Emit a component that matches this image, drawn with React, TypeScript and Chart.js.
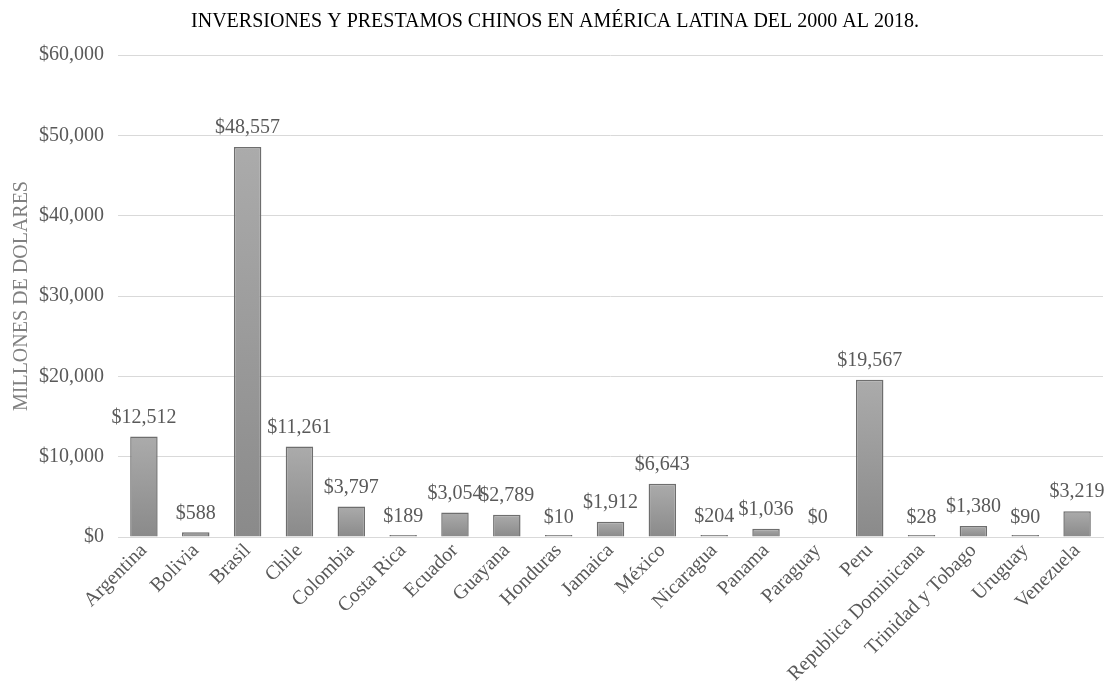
import React, { useEffect, useRef } from "react";
import { Chart, registerables } from "chart.js";

Chart.register(...registerables);

const TITLE = "INVERSIONES Y PRESTAMOS CHINOS EN AMÉRICA LATINA DEL 2000 AL 2018.";
const Y_TITLE = "MILLONES DE DOLARES";
const countries = [
  "Argentina", "Bolivia", "Brasil", "Chile", "Colombia", "Costa Rica", "Ecuador",
  "Guayana", "Honduras", "Jamaica", "México", "Nicaragua", "Panama", "Paraguay",
  "Peru", "Republica Dominicana", "Trinidad y Tobago", "Uruguay", "Venezuela",
];
const amounts = [
  12512, 588, 48557, 11261, 3797, 189, 3054, 2789, 10, 1912, 6643, 204, 1036, 0,
  19567, 28, 1380, 90, 3219,
];
const yMin = 0;
const yMax = 60000;
const yStep = 10000;

const SERIF = '"Liberation Serif", "Times New Roman", serif';
const fmt = (v: number) => "$" + v.toLocaleString("en-US");

const dataLabels = {
  id: "dataLabels",
  afterDatasetsDraw(chart: any) {
    const ctx = chart.ctx;
    const xs = chart.scales.x;
    const ys = chart.scales.y;
    ctx.save();
    ctx.font = `20px ${SERIF}`;
    ctx.fillStyle = "#595959";
    ctx.textAlign = "center";
    ctx.textBaseline = "middle";
    amounts.forEach((v, i) => {
      ctx.fillText(fmt(v), xs.getPixelForValue(i), ys.getPixelForValue(v) - 19);
    });
    ctx.restore();
  },
};

export default function App() {
  const ref = useRef<HTMLCanvasElement>(null);
  useEffect(() => {
    document.body.style.margin = "0";
    const chart = new Chart(ref.current!, {
      type: "bar",
      data: {
        labels: countries,
        datasets: [
          {
            data: amounts.map((v) => (v === 0 ? null : v)),
            backgroundColor: (c: any) => {
              const ch = c.chart;
              const ys = ch.scales && ch.scales.y;
              if (!ys || c.type !== "data" || !c.parsed) return "#9a9a9a";
              const top = ys.getPixelForValue(c.parsed.y);
              const bot = ys.getPixelForValue(0);
              if (!isFinite(top) || bot - top < 2) return "#9a9a9a";
              const g = ch.ctx.createLinearGradient(0, top, 0, bot);
              g.addColorStop(0, "#ababab");
              g.addColorStop(1, "#8a8a8a");
              return g;
            },
            borderColor: "#6e6e6e",
            borderWidth: 1.5,
            minBarLength: 2,
            categoryPercentage: 0.53,
            barPercentage: 1,
          },
        ],
      },
      plugins: [dataLabels],
      options: {
        animation: false,
        responsive: false,
        layout: { padding: { left: 7, right: 7, top: 0, bottom: 2 } },
        plugins: {
          legend: { display: false },
          tooltip: { enabled: false },
          title: {
            display: true,
            text: TITLE,
            color: "#000",
            font: { family: SERIF, size: 20, weight: "normal" },
            padding: { top: 10, bottom: 21 },
          },
        },
        scales: {
          x: {
            grid: { display: false, drawTicks: false },
            border: { display: true, color: "#d9d9d9", width: 1 },
            ticks: {
              color: "#595959",
              font: { family: SERIF, size: 20 },
              maxRotation: 45,
              minRotation: 45,
              autoSkip: false,
              padding: 2,
            },
          },
          y: {
            min: yMin,
            max: yMax,
            afterFit: (s: any) => {
              s.width = 111;
            },
            grid: { color: "#d9d9d9", drawTicks: false },
            border: { display: false },
            ticks: {
              stepSize: yStep,
              color: "#595959",
              font: { family: SERIF, size: 20 },
              padding: 14,
              callback: (v: any) => fmt(Number(v)),
            },
            title: {
              display: true,
              text: Y_TITLE,
              color: "#808080",
              font: { family: SERIF, size: 20 },
              padding: { top: 3, bottom: 0 },
            },
          },
        },
      },
    });
    return () => chart.destroy();
  }, []);
  return (
    <div style={{ width: 1110, height: 690 }}>
      <canvas ref={ref} width={1110} height={690} style={{ display: "block" }} />
    </div>
  );
}
